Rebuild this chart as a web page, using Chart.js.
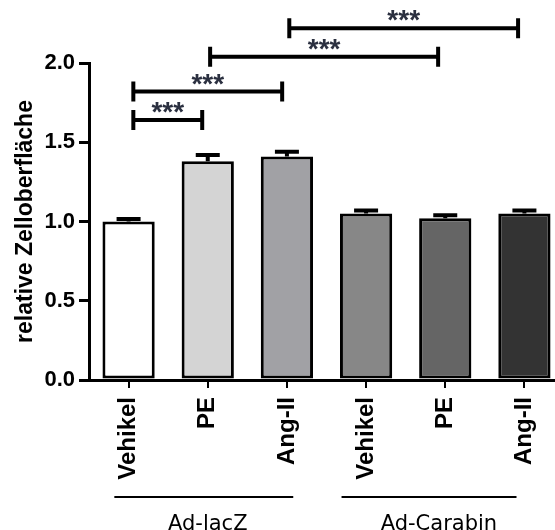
<!DOCTYPE html>
<html lang="de">
<head>
<meta charset="UTF-8">
<title>relative Zelloberfläche</title>
<script src="https://cdn.jsdelivr.net/npm/chart.js"></script>
<style>
  html, body { margin: 0; padding: 0; background: #fff; overflow: hidden; }
  /* plot runs slightly past the right edge of the window, as in the figure */
  #wrap { position: relative; width: 564px; height: 530px; }
</style>
</head>
<body>
<div id="wrap"><canvas id="chart"></canvas></div>
<script>
// values
const categories = ['Vehikel', 'PE', 'Ang-II', 'Vehikel', 'PE', 'Ang-II'];
const means = [1.00, 1.38, 1.41, 1.05, 1.02, 1.05];
const sems = [0.015, 0.04, 0.03, 0.02, 0.02, 0.02];
const yTicks = [0, 0.5, 1.0, 1.5, 2.0];

// groups under the axis (category index ranges)
const groupNames = ['Ad-lacZ', 'Ad-Carabin'];
const groupFrom = [-0.18, 2.69];
const groupTo = [2.08, 4.9];
const groupCenter = [1.0, 3.92];

// significance brackets
const sigFrom = [0.06, 0.06, 1.03, 2.03];
const sigTo = [0.93, 1.94, 3.91, 4.92];
const sigY = [1.64, 1.82, 2.04, 2.22];
const sigText = ['***', '***', '***', '***'];

const barColors = ['#ffffff', '#d4d4d4', '#a1a1a5', '#878787', '#656565', '#333333'];

const extras = {
  id: 'extras',
  afterDatasetsDraw(chart) {
    const ctx = chart.ctx;
    const x = chart.scales.x, y = chart.scales.y;
    const meta = chart.getDatasetMeta(0);
    ctx.save();
    ctx.strokeStyle = '#000';
    ctx.lineCap = 'butt';
    // error bars
    meta.data.forEach((bar, i) => {
      const top = y.getPixelForValue(means[i] + sems[i]);
      const base = y.getPixelForValue(means[i]);
      ctx.lineWidth = 4;
      ctx.beginPath();
      ctx.moveTo(bar.x, base);
      ctx.lineTo(bar.x, top);
      ctx.moveTo(bar.x - 12, top);
      ctx.lineTo(bar.x + 12, top);
      ctx.stroke();
    });
    // brackets
    ctx.lineWidth = 4;
    ctx.fillStyle = '#2b3040';
    ctx.font = 'bold 28px "Liberation Sans", Arial, sans-serif';
    ctx.textAlign = 'center';
    ctx.textBaseline = 'alphabetic';
    sigY.forEach((v, k) => {
      const py = y.getPixelForValue(v);
      const x1 = x.getPixelForValue(sigFrom[k]);
      const x2 = x.getPixelForValue(sigTo[k]);
      ctx.beginPath();
      ctx.moveTo(x1, py); ctx.lineTo(x2, py);
      ctx.moveTo(x1, py - 10); ctx.lineTo(x1, py + 10);
      ctx.moveTo(x2, py - 10); ctx.lineTo(x2, py + 10);
      ctx.stroke();
      ctx.fillText(sigText[k], (x1 + x2) / 2, py + 1);
    });
    // group lines and names
    ctx.lineWidth = 2;
    ctx.fillStyle = '#000';
    ctx.textBaseline = 'middle';
    ctx.font = '21px "DejaVu Sans", Verdana, sans-serif';
    groupNames.forEach((name, g) => {
      const ly = x.top + 117;
      ctx.beginPath();
      ctx.moveTo(x.getPixelForValue(groupFrom[g]), ly);
      ctx.lineTo(x.getPixelForValue(groupTo[g]), ly);
      ctx.stroke();
      ctx.fillText(name, x.getPixelForValue(groupCenter[g]), x.top + 145);
    });
    ctx.restore();
  }
};

new Chart(document.getElementById('chart'), {
  type: 'bar',
  data: {
    labels: categories,
    datasets: [{
      data: means,
      backgroundColor: barColors,
      borderColor: '#000',
      borderWidth: 3,
      borderSkipped: false,
      categoryPercentage: 1,
      barPercentage: 0.66
    }]
  },
  options: {
    responsive: true,
    maintainAspectRatio: false,
    animation: false,
    events: [],
    layout: { padding: { top: 63, right: 0, left: 0, bottom: 0 } },
    plugins: { legend: { display: false }, tooltip: { enabled: false } },
    scales: {
      x: {
        afterFit(s) { s.height = 150; },
        border: { display: true, color: '#000', width: 3 },
        grid: { drawOnChartArea: false, offset: false, color: '#000', lineWidth: 2, tickLength: 8 },
        ticks: {
          color: '#000', autoSkip: false, minRotation: 90, maxRotation: 90, padding: 9,
          font: { family: '"Liberation Sans", Arial, sans-serif', size: 24, weight: 'bold' }
        }
      },
      y: {
        min: 0, max: 2,
        afterFit(s) { s.width = 89; },
        afterBuildTicks(s) { s.ticks = yTicks.map(v => ({ value: v })); },
        border: { display: true, color: '#000', width: 3 },
        grid: { drawOnChartArea: false, color: '#000', lineWidth: 3, tickLength: 10 },
        ticks: {
          color: '#000', padding: 4,
          callback: v => v.toFixed(1),
          font: { family: '"Liberation Sans", Arial, sans-serif', size: 22, weight: 'bold' }
        },
        title: {
          display: true, text: 'relative Zelloberfläche', color: '#000',
          padding: { top: 12, bottom: 0 },
          font: { family: '"Liberation Sans", Arial, sans-serif', size: 23, weight: 'bold' }
        }
      }
    }
  },
  plugins: [extras]
});
</script>
</body>
</html>
